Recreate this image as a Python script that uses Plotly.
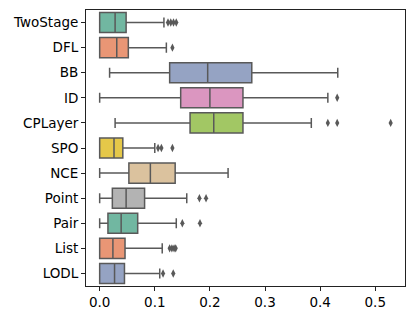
import plotly.graph_objects as go

categories = ["TwoStage", "DFL", "BB", "ID", "CPLayer", "SPO", "NCE", "Point", "Pair", "List", "LODL"]
lower_whisker = [0.0, 0.0, 0.018, 0.0, 0.028, 0.0, 0.0, 0.0, 0.0, 0.0, 0.0]
q1_values = [0.0, 0.0, 0.127, 0.147, 0.164, 0.0, 0.053, 0.023, 0.015, 0.0, 0.0]
median_values = [0.028, 0.031, 0.196, 0.200, 0.207, 0.026, 0.092, 0.048, 0.039, 0.024, 0.027]
q3_values = [0.048, 0.052, 0.276, 0.260, 0.260, 0.042, 0.137, 0.0815, 0.069, 0.046, 0.045]
upper_whisker = [0.1166, 0.121, 0.432, 0.414, 0.384, 0.100, 0.233, 0.158, 0.139, 0.1135, 0.109]
outliers = {
    "TwoStage": [0.124, 0.129, 0.134, 0.139],
    "DFL": [0.132],
    "BB": [],
    "ID": [0.431],
    "CPLayer": [0.414, 0.431, 0.528],
    "SPO": [0.106, 0.112, 0.132],
    "NCE": [],
    "Point": [0.181, 0.193],
    "Pair": [0.150, 0.182],
    "List": [0.127, 0.131, 0.135, 0.138],
    "LODL": [0.115, 0.1335],
}
colors = ["#71b7a1", "#e99675", "#95a3c3", "#db96c0", "#a2c764", "#e5c849",
          "#dbc29e", "#b3b3b3", "#71b7a1", "#e99675", "#95a3c3"]
tick_vals = [0.0, 0.1, 0.2, 0.3, 0.4, 0.5]
tick_text = ["0.0", "0.1", "0.2", "0.3", "0.4", "0.5"]

line_gray = "#595959"
fig = go.Figure()
for i, cat in enumerate(categories):
    fig.add_trace(go.Box(
        y=[cat], q1=[q1_values[i]], median=[median_values[i]], q3=[q3_values[i]],
        lowerfence=[lower_whisker[i]], upperfence=[upper_whisker[i]],
        orientation="h", fillcolor=colors[i], line=dict(color=line_gray, width=1.5),
        width=0.8, whiskerwidth=0.5, boxpoints=False, showlegend=False,
    ))
    if outliers[cat]:
        fig.add_trace(go.Scatter(
            x=outliers[cat], y=[cat] * len(outliers[cat]), mode="markers",
            marker=dict(symbol="diamond-tall", size=6, color=line_gray, line=dict(width=0)),
            showlegend=False,
        ))

font = dict(family="DejaVu Sans", size=13.5, color="#000000")
fig.update_layout(
    width=407, height=303, margin=dict(l=78, r=10, t=1, b=22),
    paper_bgcolor="white", plot_bgcolor="white", boxmode="overlay", font=font,
)
fig.update_xaxes(range=[-0.0248, 0.554], tickvals=tick_vals, ticktext=tick_text,
                 showgrid=False, zeroline=False, showline=True, linecolor="#222222",
                 linewidth=1, mirror=True, ticks="outside", ticklen=4, tickcolor="#222222")
fig.update_yaxes(categoryorder="array", categoryarray=categories, range=[10.5, -0.5],
                 showgrid=False, zeroline=False, showline=True, linecolor="#222222",
                 linewidth=1, mirror=True, ticks="outside", ticklen=4, tickcolor="#222222")
fig.write_html("out.html")
